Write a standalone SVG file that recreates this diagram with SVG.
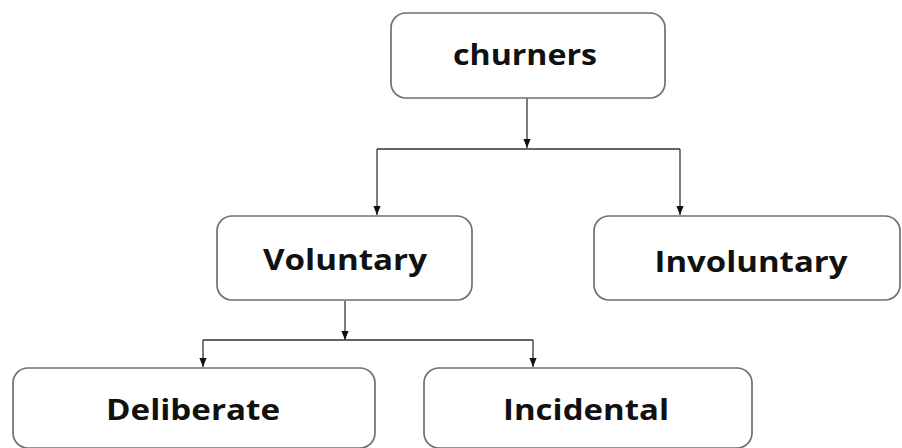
<svg xmlns="http://www.w3.org/2000/svg" width="902" height="448" viewBox="0 0 902 448">
  <defs>
    <marker id="arrow" viewBox="0 0 10 8" refX="10" refY="4" markerWidth="9" markerHeight="8" markerUnits="userSpaceOnUse" orient="auto">
      <path d="M0,0 L10,4 L0,8 Z" fill="#111"/>
    </marker>
    <style>
      .box { fill: #fff; stroke: #707070; stroke-width: 1.7; }
      .label { font-family: "Open Sans", "Liberation Sans", sans-serif; font-weight: 700; font-size: 28px; fill: #111; text-anchor: middle; }
      .wire { fill: none; stroke: #333; stroke-width: 1.3; }
    </style>
  </defs>
  <rect width="902" height="448" fill="#fff"/>

  <g id="connectors">
    <line class="wire" x1="527" y1="98" x2="527" y2="148" marker-end="url(#arrow)"/>
    <line class="wire" x1="377" y1="149" x2="680" y2="149"/>
    <line class="wire" x1="377" y1="149" x2="377" y2="215" marker-end="url(#arrow)"/>
    <line class="wire" x1="680" y1="149" x2="680" y2="215" marker-end="url(#arrow)"/>
    <line class="wire" x1="345" y1="301" x2="345" y2="340" marker-end="url(#arrow)"/>
    <line class="wire" x1="203" y1="340" x2="533" y2="340"/>
    <line class="wire" x1="203" y1="340" x2="203" y2="367" marker-end="url(#arrow)"/>
    <line class="wire" x1="533" y1="340" x2="533" y2="367" marker-end="url(#arrow)"/>
  </g>

  <g id="churners">
    <rect class="box" x="391" y="13" width="274" height="85" rx="15"/>
    <text class="label" x="525" y="65" textLength="144" lengthAdjust="spacingAndGlyphs">churners</text>
  </g>

  <g id="voluntary">
    <rect class="box" x="217" y="216" width="255" height="84" rx="15"/>
    <text class="label" x="345" y="270" textLength="164" lengthAdjust="spacingAndGlyphs">Voluntary</text>
  </g>

  <g id="involuntary">
    <rect class="box" x="594" y="216" width="306" height="84" rx="15"/>
    <text class="label" x="751" y="272" textLength="193" lengthAdjust="spacingAndGlyphs">Involuntary</text>
  </g>

  <g id="deliberate">
    <rect class="box" x="13" y="368" width="362" height="80" rx="15"/>
    <text class="label" x="193" y="420" textLength="174" lengthAdjust="spacingAndGlyphs">Deliberate</text>
  </g>

  <g id="incidental">
    <rect class="box" x="424" y="368" width="328" height="80" rx="15"/>
    <text class="label" x="586" y="420" textLength="166" lengthAdjust="spacingAndGlyphs">Incidental</text>
  </g>
</svg>
